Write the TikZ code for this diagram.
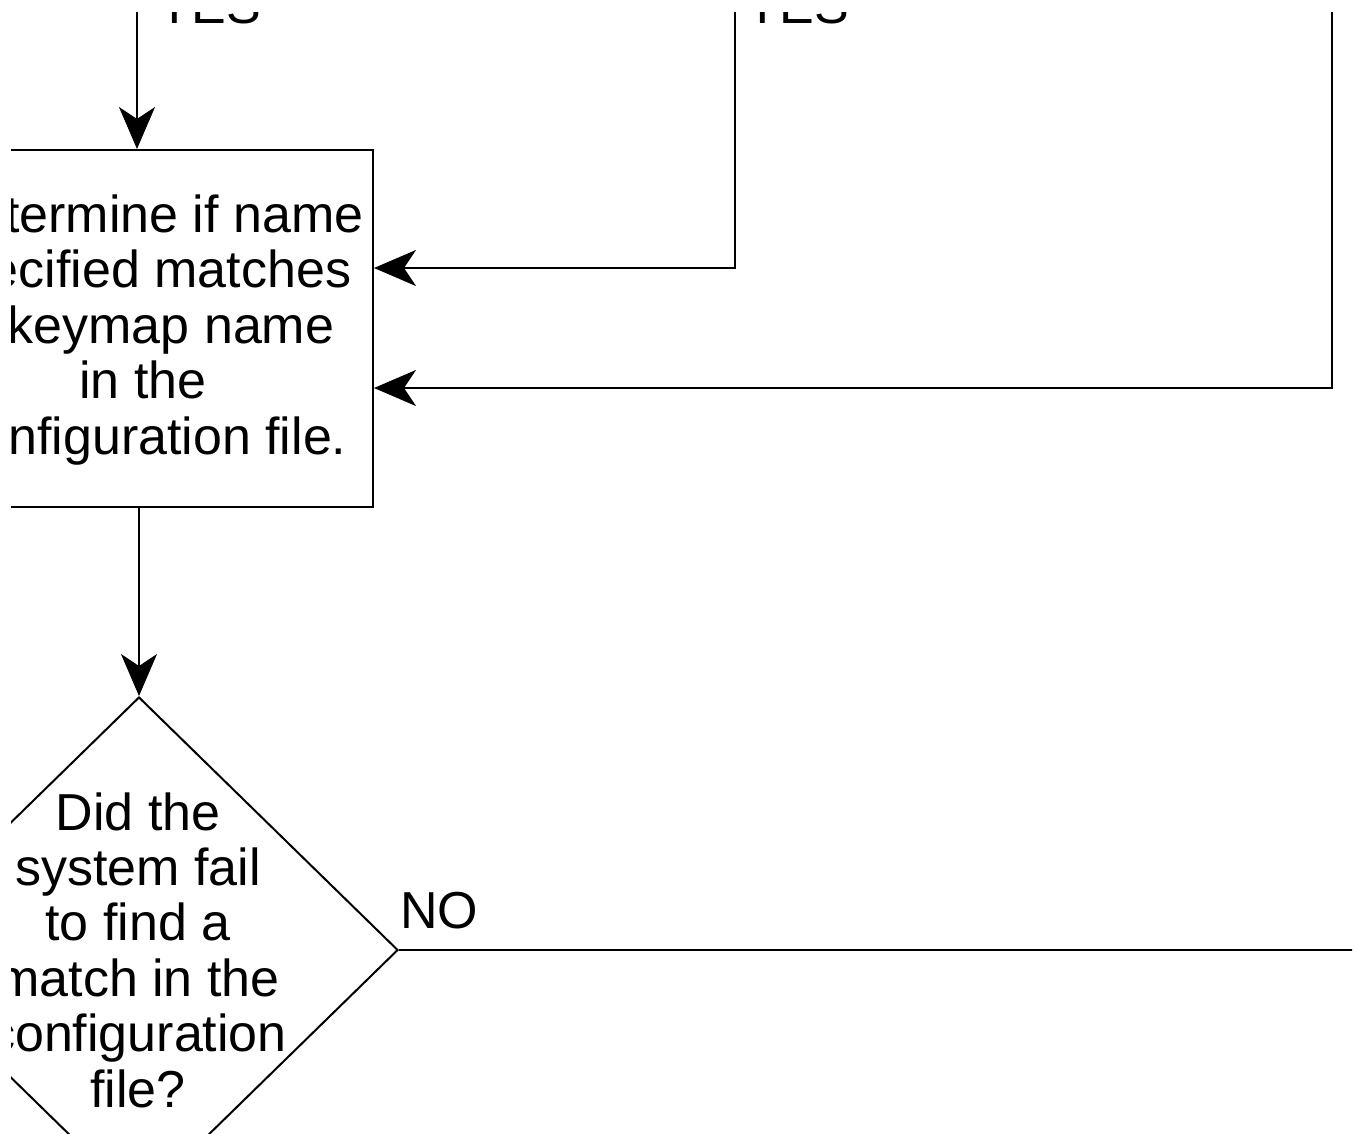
\documentclass[tikz,border=0pt]{standalone}
\usepackage{fontspec}
\setmainfont{Liberation Sans}
\usetikzlibrary{arrows.meta,shapes.geometric}
\begin{document}
\begin{tikzpicture}[x=1pt,y=-1pt,
  line width=2pt,
  big/.style={font=\fontsize{52}{55.4}\selectfont, inner sep=0pt},
  lbl/.style={big, anchor=base west},
  arr/.style={-{Stealth[length=42pt,width=36pt,inset=12pt]}},
  procbox/.style={draw, rectangle, minimum width=472pt, minimum height=357pt, inner sep=0pt},
  decbox/.style={draw, diamond, minimum width=518pt, minimum height=506pt, inner sep=0pt}
]
\useasboundingbox (0,0) rectangle (1359,1133);
\clip (11,12) rectangle (1352,1133);
\node[procbox] (box) at (137,328.5) {};
\node[big, align=center, anchor=base] (boxtext) at (143,454)
  {\hspace*{16pt}Determine if name\\specified matches\\\hspace*{56pt}keymap name\\in the\\\hspace*{14pt}configuration file.};
\node[decbox] (dec) at (139,950) {};
\node[big, align=center, anchor=base] (dectext) at (138,1107)
  {Did the\\system fail\\to find a\\match in the\\configuration\\file?};
\coordinate (in1) at (137,0);
\coordinate (in2) at (735,0);
\coordinate (in3) at (1332,0);
\coordinate (noend) at (1370,950);
\node[lbl] (yes1) at (156,23) {YES};
\node[lbl] (yes2) at (744,23) {YES};
\node[lbl] (no) at (399,928) {NO};
\draw[arr] (in1) -- (box.north -| in1);
\draw[arr] (in2) |- (box.east |- 0,268);
\draw[arr] (in3) |- (box.east |- 0,388);
\draw[arr] (box.south -| 139,0) -- (dec.north);
\draw (dec.east) -- (noend);
\end{tikzpicture}
\end{document}
